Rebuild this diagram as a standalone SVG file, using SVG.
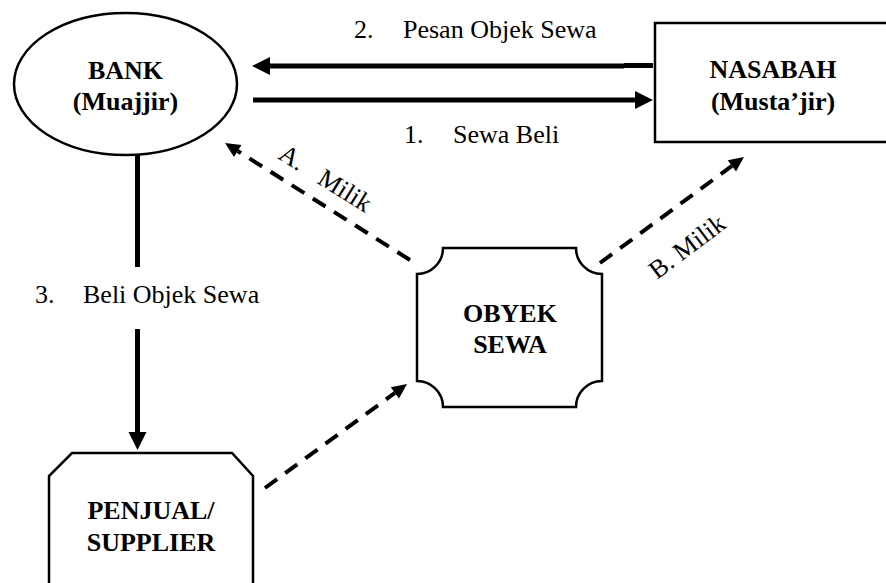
<svg xmlns="http://www.w3.org/2000/svg" width="886" height="583" viewBox="0 0 886 583">
<style>
.shape{fill:#fff;stroke:#000;stroke-width:2.5}
.nt{font-family:"Liberation Serif","Times New Roman",serif;font-size:26px;font-weight:bold;text-anchor:middle;fill:#000}
.lb{font-family:"Liberation Serif","Times New Roman",serif;font-size:26px;fill:#000}
.solid{fill:none;stroke:#000;stroke-width:5}
.dash{fill:none;stroke:#000;stroke-width:4;stroke-dasharray:15 10}
</style>
<defs>
<marker id="hs" markerUnits="userSpaceOnUse" markerWidth="20" markerHeight="20" refX="0" refY="9" orient="auto" overflow="visible">
<path d="M0,0 L18,9 L0,18 Z" fill="#000"/>
</marker>
<marker id="hd" markerUnits="userSpaceOnUse" markerWidth="16" markerHeight="16" refX="0" refY="7" orient="auto" overflow="visible">
<path d="M0,0 L15,7 L0,14 Z" fill="#000"/>
</marker>
</defs>
<g id="bank">
<ellipse class="shape" cx="125.5" cy="84" rx="111.5" ry="71"/>
<text class="nt" x="125.5" y="79">BANK</text>
<text class="nt" x="125.5" y="110">(Muajjir)</text>
</g>
<g id="nasabah">
<rect class="shape" x="655" y="23" width="240" height="119"/>
<text class="nt" x="773" y="78">NASABAH</text>
<text class="nt" x="773" y="110">(Musta’jir)</text>
</g>
<g id="obyek">
<path class="shape" d="M443,248 H576 A26,26 0 0 0 602,274 V381 A26,26 0 0 0 576,407 H443 A26,26 0 0 0 417,381 V274 A26,26 0 0 0 443,248 Z"/>
<text class="nt" x="510" y="322">OBYEK</text>
<text class="nt" x="510" y="353">SEWA</text>
</g>
<g id="penjual">
<path class="shape" d="M72,453 H232 L253,476 V600 H49 V476 Z"/>
<text class="nt" x="151" y="519">PENJUAL/</text>
<text class="nt" x="151" y="551">SUPPLIER</text>
</g>
<g id="connectors">
<path class="solid" d="M624,66 H270" marker-end="url(#hs)"/>
<path class="solid" d="M653,65.5 H624"/>
<path class="solid" d="M253,100 H635" marker-end="url(#hs)"/>
<path class="solid" d="M137.5,155 V267"/>
<path class="solid" d="M137.5,329 V432" marker-end="url(#hs)"/>
<path class="dash" d="M410,260 L237.7,151" marker-end="url(#hd)"/>
<path class="dash" d="M600,263 L731.9,165.9" marker-end="url(#hd)"/>
<path class="dash" d="M265,488 L394.9,392.9" marker-end="url(#hd)"/>
<text class="lb" x="354" y="38">2.</text>
<text class="lb" x="403" y="38">Pesan Objek Sewa</text>
<text class="lb" x="404" y="143">1.</text>
<text class="lb" x="453" y="143">Sewa Beli</text>
<text class="lb" x="35" y="303">3.</text>
<text class="lb" x="83" y="303">Beli Objek Sewa</text>
<text class="lb" transform="translate(277,158) rotate(32)"><tspan x="0" y="0">A.</tspan><tspan x="46" y="0">Milik</tspan></text>
<text class="lb" transform="translate(657,280) rotate(-37)">B. Milik</text>
</g>
</svg>
